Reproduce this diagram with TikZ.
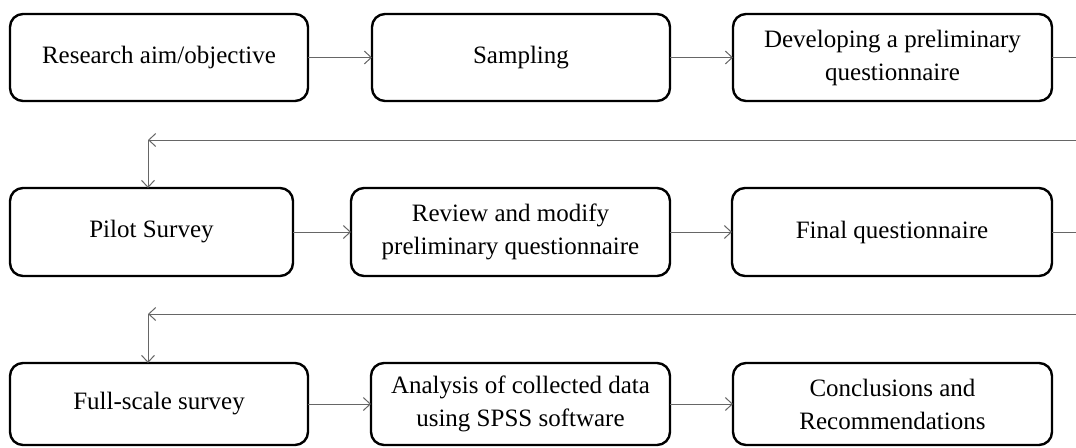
\documentclass[tikz,border=0pt]{standalone}
\usepackage{fontspec}
\setmainfont{Liberation Serif}
\usetikzlibrary{arrows.meta}
\begin{document}
\begin{tikzpicture}[x=1pt,y=-1pt,
  box/.style={draw=black, line width=2.4pt, rounded corners=13pt, inner sep=0pt, outer sep=0pt,
    align=center, font=\fontsize{25}{33}\selectfont},
  conn/.style={draw=black!60, line width=1pt, -{Straight Barb[length=7pt,width=13pt,line width=1pt]}},
  plain/.style={draw=black!60, line width=1pt}]
\useasboundingbox (0,0) rectangle (1076,447);
% row 1
\node[box, minimum width=298pt, minimum height=87pt] (a1) at (159,57.5) {Research aim/objective};
\node[box, minimum width=298pt, minimum height=87pt] (a2) at (521,57.5) {Sampling};
\node[box, minimum width=319pt, minimum height=87pt] (a3) at (892.5,57.5) {Developing a preliminary\\questionnaire};
% row 2
\node[box, minimum width=283pt, minimum height=88pt] (b1) at (151.5,232) {Pilot Survey};
\node[box, minimum width=319pt, minimum height=88pt] (b2) at (510.5,232) {Review and modify\\preliminary questionnaire};
\node[box, minimum width=320pt, minimum height=88pt] (b3) at (892,232) {Final questionnaire};
% row 3
\node[box, minimum width=298pt, minimum height=82pt] (c1) at (159,404) {Full-scale survey};
\node[box, minimum width=299pt, minimum height=82pt] (c2) at (520.5,404) {Analysis of collected data\\using SPSS software};
\node[box, minimum width=319pt, minimum height=82pt] (c3) at (892.5,404) {Conclusions and\\Recommendations};
% coordinates
\coordinate (e1) at (1076,57.5);
\coordinate (r1) at (1076,140);
\coordinate (k1) at (148,140);
\coordinate (e2) at (1076,232);
\coordinate (r2) at (1076,314);
\coordinate (k2) at (148,314);
% connectors
\draw[conn] (a1.east) -- (a2.west);
\draw[conn] (a2.east) -- (a3.west);
\draw[plain] (a3.east) -- (e1);
\draw[conn] (r1) -- (k1);
\draw[conn] (k1) -- (k1 |- b1.north);
\draw[conn] (b1.east) -- (b2.west);
\draw[conn] (b2.east) -- (b3.west);
\draw[plain] (b3.east) -- (e2);
\draw[conn] (r2) -- (k2);
\draw[conn] (k2) -- (k2 |- c1.north);
\draw[conn] (c1.east) -- (c2.west);
\draw[conn] (c2.east) -- (c3.west);
\end{tikzpicture}
\end{document}
